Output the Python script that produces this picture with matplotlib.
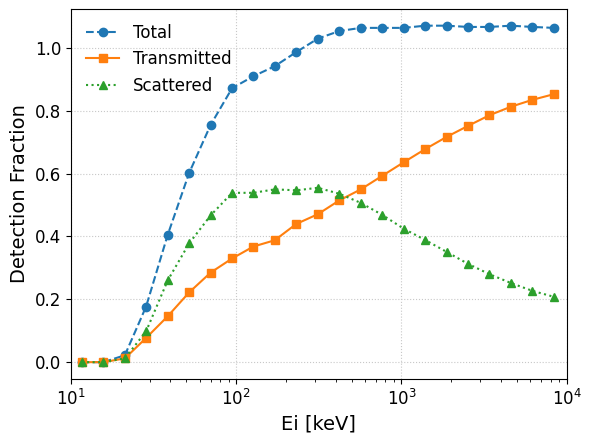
import matplotlib
matplotlib.use("Agg")
import matplotlib.pyplot as plt

energies = [11.6, 15.7, 21.2, 28.5, 38.5, 51.9, 70.0, 94.4, 127, 171, 231, 312,
            421, 567, 764, 1030, 1390, 1875, 2525, 3405, 4590, 6195, 8355]
total = [0.0, 0.0, 0.022, 0.177, 0.405, 0.602, 0.755, 0.872, 0.910, 0.942, 0.987, 1.030,
         1.054, 1.064, 1.064, 1.064, 1.071, 1.071, 1.067, 1.067, 1.071, 1.067, 1.064]
transmitted = [0.0, 0.0, 0.012, 0.077, 0.146, 0.222, 0.285, 0.330, 0.368, 0.388, 0.440, 0.471,
               0.515, 0.550, 0.593, 0.636, 0.678, 0.717, 0.752, 0.786, 0.813, 0.835, 0.853]
scattered = [0.0, 0.0, 0.012, 0.098, 0.260, 0.378, 0.467, 0.539, 0.539, 0.550, 0.547, 0.555,
             0.536, 0.507, 0.469, 0.425, 0.389, 0.351, 0.313, 0.280, 0.252, 0.227, 0.208]

fig, ax = plt.subplots(figsize=(5.91, 4.43), dpi=100)
fig.subplots_adjust(left=0.120, right=0.959, top=0.980, bottom=0.1445)

ax.plot(energies, total, 'o--', color='#1f77b4', label='Total', markersize=6)
ax.plot(energies, transmitted, 's-', color='#ff7f0e', label='Transmitted', markersize=6)
ax.plot(energies, scattered, '^:', color='#2ca02c', label='Scattered', markersize=6)

ax.set_xscale('log')
ax.set_xlim(10, 1e4)
ax.set_xlabel('Ei [keV]', fontsize=14)
ax.set_ylabel('Detection Fraction', fontsize=14)
ax.tick_params(axis='both', which='major', labelsize=12)
ax.grid(True, which='major', linestyle=':', color='#c8c8c8', linewidth=0.8)
ax.legend(loc='upper left', frameon=False, fontsize=12)

fig.savefig('out.png', dpi=100)
